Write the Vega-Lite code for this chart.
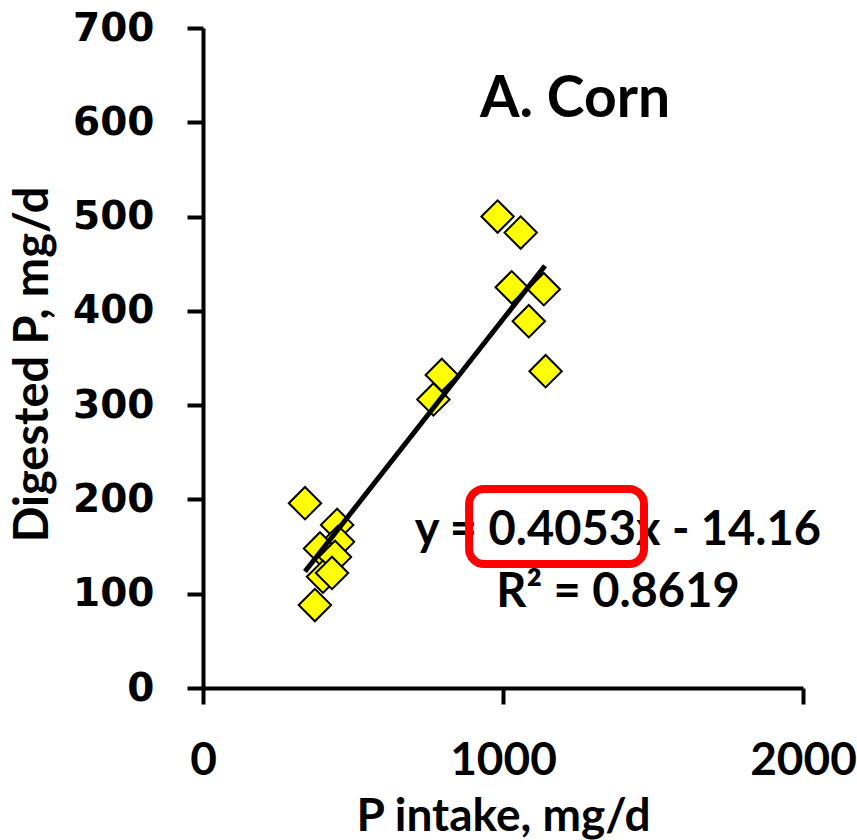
{
  "$schema": "https://vega.github.io/schema/vega-lite/v6.json",
  "width": 600,
  "height": 660,
  "autosize": {"type": "none"},
  "padding": {"left": 203, "top": 28, "right": 54, "bottom": 152},
  "background": "white",
  "datasets": {
    "pts": [
      {"intake": 340, "digested": 196},
      {"intake": 982, "digested": 500},
      {"intake": 1059, "digested": 483},
      {"intake": 1029, "digested": 425},
      {"intake": 1136, "digested": 423},
      {"intake": 1086, "digested": 389},
      {"intake": 1142, "digested": 336},
      {"intake": 796, "digested": 332},
      {"intake": 768, "digested": 306},
      {"intake": 447, "digested": 173},
      {"intake": 450, "digested": 155},
      {"intake": 390, "digested": 148},
      {"intake": 440, "digested": 139},
      {"intake": 400, "digested": 118},
      {"intake": 430, "digested": 122},
      {"intake": 373, "digested": 88}
    ],
    "fit": [
      {"intake": 340, "digested": 123.6},
      {"intake": 1140, "digested": 447.9}
    ],
    "labels": [
      {"intake": 1383, "digested": 151.6, "label": "y = 0.4053x - 14.16", "size": 47},
      {"intake": 1383, "digested": 85.9, "label": "R² = 0.8619", "size": 47},
      {"intake": 1240, "digested": 605.6, "label": "A. Corn", "size": 57}
    ],
    "box": [
      {"x1": 887, "x2": 1470, "y1": 131.5, "y2": 211}
    ]
  },
  "config": {
    "view": {"stroke": null},
    "axis": {
      "grid": false,
      "domainColor": "black",
      "domainWidth": 4,
      "tickColor": "black",
      "tickWidth": 4,
      "tickSize": 16,
      "labelColor": "black",
      "titleColor": "black",
      "labelFontWeight": "bold",
      "titleFontWeight": "bold"
    }
  },
  "layer": [
    {
      "data": {"name": "pts"},
      "mark": {"type": "point", "shape": "diamond", "filled": true, "fill": "#FFFF00", "stroke": "black", "strokeWidth": 2, "size": 1050, "opacity": 1},
      "encoding": {
        "x": {
          "field": "intake", "type": "quantitative",
          "scale": {"domain": [0, 2000], "nice": false, "zero": true},
          "axis": {
            "values": [0, 1000, 2000],
            "format": "d",
            "title": "P intake, mg/d",
            "labelFont": "Lato", "labelFontSize": 46, "labelPadding": 34,
            "labelFlush": false,
            "titleFont": "Lato", "titleFontSize": 46,
            "titleBaseline": "alphabetic", "titleY": 142, "titleX": 300, "titleAlign": "center"
          }
        },
        "y": {
          "field": "digested", "type": "quantitative",
          "scale": {"domain": [0, 700], "nice": false},
          "axis": {
            "values": [0, 100, 200, 300, 400, 500, 600, 700],
            "title": "Digested P, mg/d",
            "labelFont": "DejaVu Sans", "labelFontSize": 39, "labelPadding": 33,
            "labelFlush": false,
            "titleFont": "Lato", "titleFontSize": 47,
            "titleAngle": -90, "titleBaseline": "alphabetic", "titleAlign": "center",
            "titleX": -156, "titleY": 336
          }
        }
      }
    },
    {
      "data": {"name": "fit"},
      "mark": {"type": "line", "color": "black", "strokeWidth": 5},
      "encoding": {
        "x": {"field": "intake", "type": "quantitative"},
        "y": {"field": "digested", "type": "quantitative"}
      }
    },
    {
      "data": {"name": "labels"},
      "mark": {"type": "text", "font": "Lato", "fontWeight": "bold", "align": "center", "baseline": "alphabetic", "color": "black"},
      "encoding": {
        "x": {"field": "intake", "type": "quantitative"},
        "y": {"field": "digested", "type": "quantitative"},
        "text": {"field": "label"},
        "size": {"field": "size", "type": "quantitative", "scale": null}
      }
    },
    {
      "data": {"name": "box"},
      "mark": {"type": "rect", "fill": null, "fillOpacity": 0, "stroke": "#FF0000", "strokeWidth": 8, "cornerRadius": 15},
      "encoding": {
        "x": {"field": "x1", "type": "quantitative"},
        "x2": {"field": "x2"},
        "y": {"field": "y1", "type": "quantitative"},
        "y2": {"field": "y2"}
      }
    }
  ]
}
